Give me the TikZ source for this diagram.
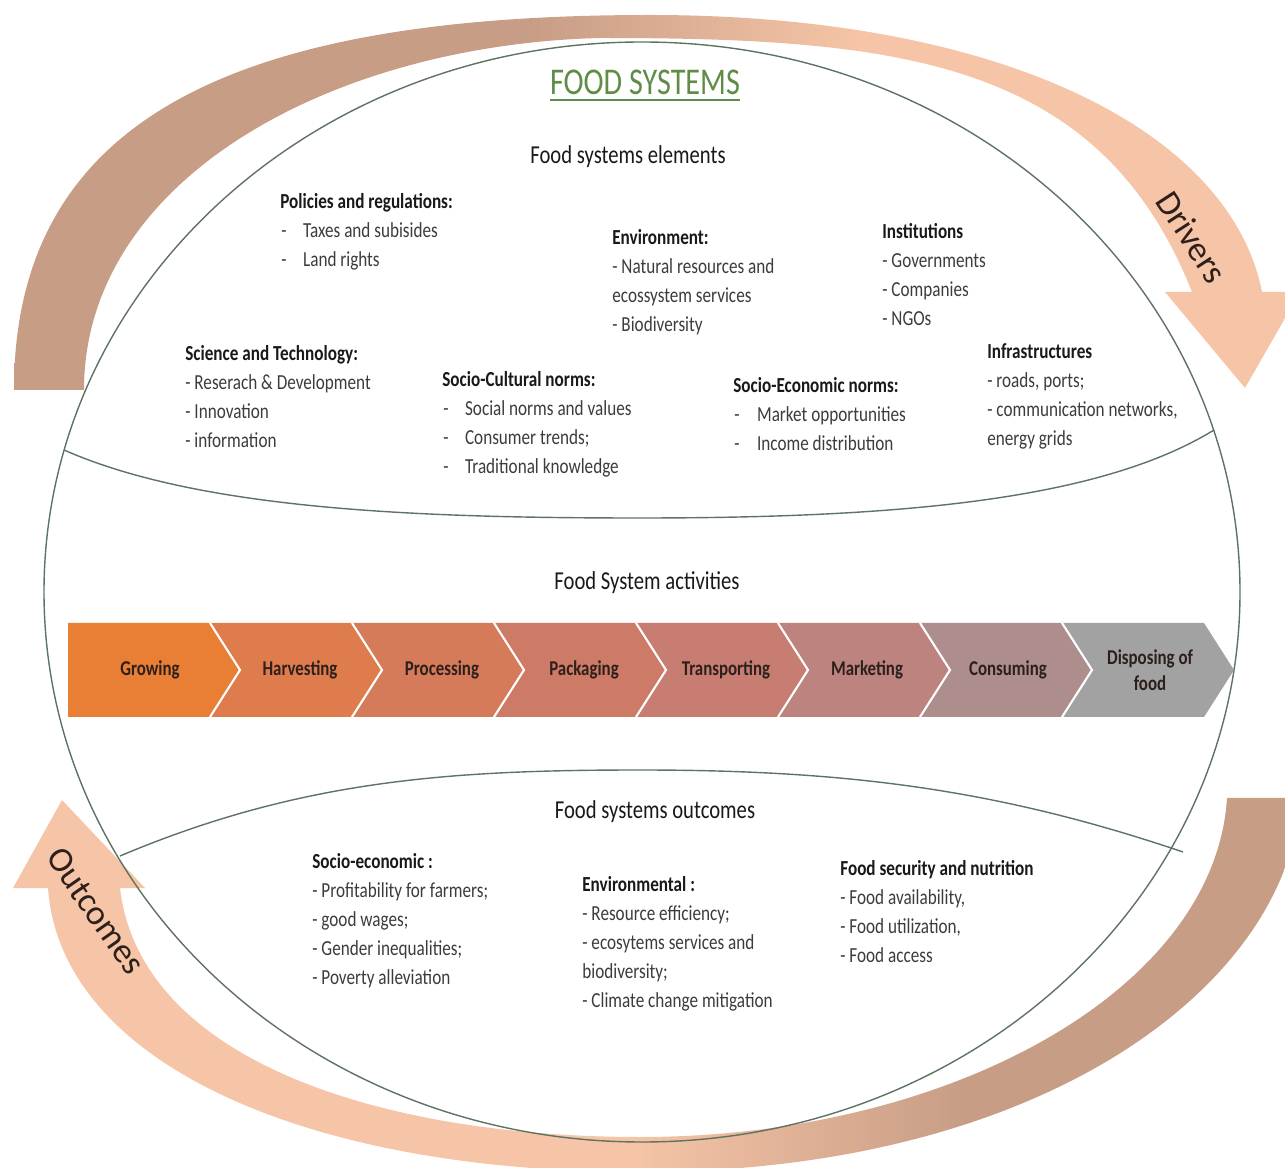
\documentclass[tikz,border=0pt]{standalone}
\usepackage{fontspec}
\setmainfont{Carlito}[FakeStretch=0.8]
\newfontfamily\arrowfont{Carlito}

\definecolor{armbrown}{RGB}{200,157,134}
\definecolor{armpeach}{RGB}{246,197,167}
\definecolor{rimline}{RGB}{94,115,98}
\definecolor{titlegreen}{RGB}{95,140,70}
\definecolor{bodygray}{RGB}{60,60,60}
\definecolor{labeldark}{RGB}{45,32,28}
\definecolor{actA}{RGB}{233,127,52}
\definecolor{actB}{RGB}{222,124,78}
\definecolor{actC}{RGB}{214,123,90}
\definecolor{actD}{RGB}{205,122,102}
\definecolor{actE}{RGB}{199,125,113}
\definecolor{actF}{RGB}{189,131,126}
\definecolor{actG}{RGB}{173,142,141}
\definecolor{actH}{RGB}{162,162,162}

% tail to head fades for the two curved arrows
\pgfdeclarehorizontalshading{driverfade}{100bp}{color(0bp)=(armbrown); color(45bp)=(armbrown); color(58bp)=(armpeach); color(100bp)=(armpeach)}
\pgfdeclarehorizontalshading{outcomefade}{100bp}{color(0bp)=(armpeach); color(49bp)=(armpeach); color(62bp)=(armbrown); color(100bp)=(armbrown)}

\begin{document}
\begin{tikzpicture}[x=0.02cm, y=-0.02cm,
  rim/.style={draw=rimline, line width=0.8pt},
  sect/.style={anchor=base, inner sep=0pt, text=black!90, font=\fontsize{14.7}{17}\selectfont},
  hd/.style={anchor=base west, inner sep=0pt, text=black!90, font=\fontsize{12.2}{14}\selectfont\bfseries},
  it/.style={anchor=base west, inner sep=0pt, text=bodygray, font=\fontsize{12.2}{14}\selectfont},
  act/.style={anchor=base, inner sep=0pt, text=labeldark, font=\fontsize{12}{14.7}\selectfont\bfseries},
  chevsep/.style={draw=white, line width=1.2pt},
  tag/.style={inner sep=0pt, text=labeldark, font=\arrowfont\fontsize{20}{24}\selectfont}]
  \useasboundingbox (0,0) rectangle (1285,1168);
  \clip (0,0) rectangle (1285,1168);

  % Drivers arrow over the top
  \shade[shading=driverfade] (14,390) .. controls (14,110) and (250,15) .. (650,15)
    .. controls (1000,15) and (1230,130) .. (1262,292)
    -- (1300,292) -- (1245,388) -- (1165,292) -- (1192,292)
    .. controls (1100,60) and (900,38) .. (600,38)
    .. controls (330,45) and (84,180) .. (84,390) -- cycle;
  \node[tag, rotate=-57] (drivers) at (1192,237) {Drivers};

  % Outcomes arrow round the bottom
  \shade[shading=outcomefade] (1227,798) -- (1300,798)
    .. controls (1290,980) and (1050,1172) .. (640,1172)
    .. controls (300,1172) and (60,1060) .. (48,888)
    -- (13,888) -- (62,800) -- (145,888) -- (120,888)
    .. controls (140,1060) and (380,1137) .. (640,1137)
    .. controls (950,1137) and (1215,990) .. (1227,798) -- cycle;
  \node[tag, rotate=-55] (outtag) at (96,911) {Outcomes};

  % system outline and the two lenses
  \draw[rim] (642,592) ellipse [x radius=598, y radius=550];
  \draw[rim] (64,450) .. controls (200,510) and (420,518) .. (640,518)
    .. controls (900,518) and (1100,500) .. (1214,430);
  \draw[rim] (120,856) .. controls (300,780) and (450,770) .. (640,770)
    .. controls (850,770) and (1000,790) .. (1183,852);

  % title
  \node[anchor=base, inner sep=0pt, text=titlegreen, font=\fontsize{21.5}{24}\selectfont] (title) at (645,95) {FOOD SYSTEMS};
  \draw[titlegreen, line width=1.4pt] ([yshift=-3pt]title.base west) -- ([yshift=-3pt]title.base east);

  % Elements
  \node[sect] (elements) at (628,164) {Food systems elements};

  \node[hd] (pol) at (280,209) {Policies and regulations:};
  \node[it] (pol1) at (281,238) {-\hspace{0.33cm}Taxes and subisides};
  \node[it] (pol2) at (281,267) {-\hspace{0.33cm}Land rights};

  \node[hd] (env) at (612,245) {Environment:};
  \node[it] (env1) at (612,274) {- Natural resources and};
  \node[it] (env2) at (612,303) {ecossystem services};
  \node[it] (env3) at (612,332) {- Biodiversity};

  \node[hd] (inst) at (882,239) {Institutions};
  \node[it] (inst1) at (882,268) {- Governments};
  \node[it] (inst2) at (882,297) {- Companies};
  \node[it] (inst3) at (882,326) {- NGOs};

  \node[hd] (sci) at (185,361) {Science and Technology:};
  \node[it] (sci1) at (185,390) {- Reserach \& Development};
  \node[it] (sci2) at (185,419) {- Innovation};
  \node[it] (sci3) at (185,448) {- information};

  \node[hd] (cult) at (442,387) {Socio-Cultural norms:};
  \node[it] (cult1) at (443,416) {-\hspace{0.33cm}Social norms and values};
  \node[it] (cult2) at (443,445) {-\hspace{0.33cm}Consumer trends;};
  \node[it] (cult3) at (443,474) {-\hspace{0.33cm}Traditional knowledge};

  \node[hd] (econ) at (733,393) {Socio-Economic norms:};
  \node[it] (econ1) at (734,422) {-\hspace{0.35cm}Market opportunities};
  \node[it] (econ2) at (734,451) {-\hspace{0.35cm}Income distribution};

  \node[hd] (infra) at (987,359) {Infrastructures};
  \node[it] (infra1) at (987,388) {- roads, ports;};
  \node[it] (infra2) at (987,417) {- communication networks,};
  \node[it] (infra3) at (987,446) {energy grids};

  % Activities chain
  \node[sect] (activities) at (647,590) {Food System activities};
  \fill[actA] (68,623) -- (210,623) -- (240,670) -- (210,717) -- (68,717) -- cycle;
  \fill[actB] (210,623) -- (352,623) -- (382,670) -- (352,717) -- (210,717) -- (240,670) -- cycle;
  \fill[actC] (352,623) -- (494,623) -- (524,670) -- (494,717) -- (352,717) -- (382,670) -- cycle;
  \fill[actD] (494,623) -- (636,623) -- (666,670) -- (636,717) -- (494,717) -- (524,670) -- cycle;
  \fill[actE] (636,623) -- (778,623) -- (808,670) -- (778,717) -- (636,717) -- (666,670) -- cycle;
  \fill[actF] (778,623) -- (920,623) -- (950,670) -- (920,717) -- (778,717) -- (808,670) -- cycle;
  \fill[actG] (920,623) -- (1062,623) -- (1092,670) -- (1062,717) -- (920,717) -- (950,670) -- cycle;
  \fill[actH] (1062,623) -- (1204,623) -- (1234,670) -- (1204,717) -- (1062,717) -- (1092,670) -- cycle;
  \draw[chevsep] (210,623) -- (240,670) -- (210,717);
  \draw[chevsep] (352,623) -- (382,670) -- (352,717);
  \draw[chevsep] (494,623) -- (524,670) -- (494,717);
  \draw[chevsep] (636,623) -- (666,670) -- (636,717);
  \draw[chevsep] (778,623) -- (808,670) -- (778,717);
  \draw[chevsep] (920,623) -- (950,670) -- (920,717);
  \draw[chevsep] (1062,623) -- (1092,670) -- (1062,717);

  \node[act] (grow) at (150,676) {Growing};
  \node[act] (harv) at (300,676) {Harvesting};
  \node[act] (proc) at (442,676) {Processing};
  \node[act] (pack) at (584,676) {Packaging};
  \node[act] (trans) at (726,676) {Transporting};
  \node[act] (mark) at (867,676) {Marketing};
  \node[act] (cons) at (1008,676) {Consuming};
  \node[act, anchor=center, align=center] (disp) at (1150,670) {Disposing of\\food};

  % Outcomes
  \node[sect] (outcomes) at (655,819) {Food systems outcomes};

  \node[hd] (oseco) at (312,868) {Socio-economic :};
  \node[it] (oseco1) at (312,897) {- Profitability for farmers;};
  \node[it] (oseco2) at (312,926) {- good wages;};
  \node[it] (oseco3) at (312,955) {- Gender inequalities;};
  \node[it] (oseco4) at (312,984) {- Poverty alleviation};

  \node[hd] (oenv) at (582,891) {Environmental :};
  \node[it] (oenv1) at (582,920) {- Resource efficiency;};
  \node[it] (oenv2) at (582,949) {- ecosytems services and};
  \node[it] (oenv3) at (582,978) {biodiversity;};
  \node[it] (oenv4) at (582,1007) {- Climate change mitigation};

  \node[hd] (ofood) at (840,875) {Food security and nutrition};
  \node[it] (ofood1) at (840,904) {- Food availability,};
  \node[it] (ofood2) at (840,933) {- Food utilization,};
  \node[it] (ofood3) at (840,962) {- Food access};
\end{tikzpicture}
\end{document}
